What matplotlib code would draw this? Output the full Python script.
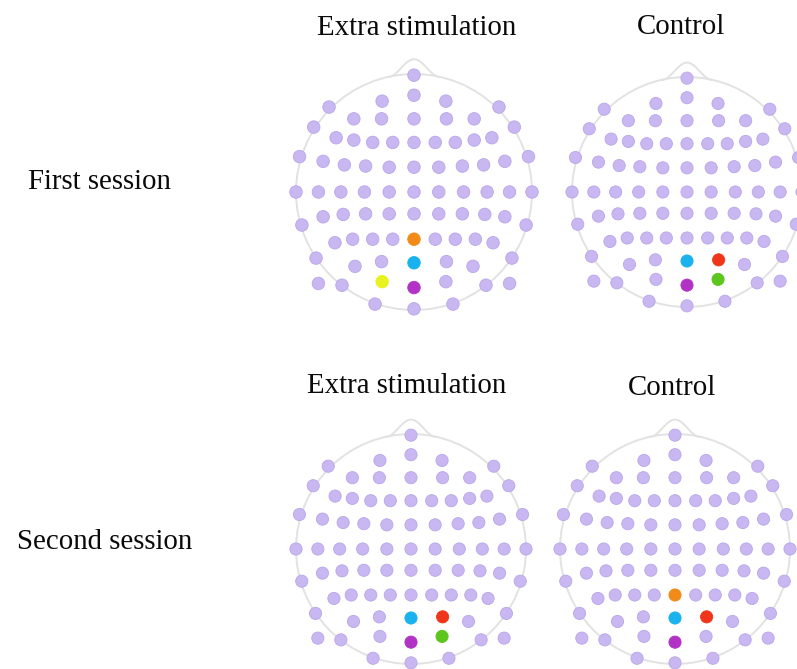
import matplotlib
matplotlib.use('Agg')
import matplotlib.pyplot as plt
from matplotlib.patches import Circle
import numpy as np

W, H = 797, 669

# electrode positions on a unit-radius head (nose up); midline + left side,
# the right side is the mirror image
PZ = (0.0, -0.40)
POZ = (0.0, -0.60)
OZ = (0.0, -0.81)
O1 = (-0.27, -0.76)
PO4 = (0.275, -0.59)
O2 = (0.27, -0.76)

left_and_mid = [
    (0.0, 0.99),
    (0.0, 0.82), (-0.27, 0.77),
    (-0.72, 0.72),
    (-0.51, 0.62), (-0.275, 0.62), (0.0, 0.62), (-0.85, 0.55),
    (-0.66, 0.46), (-0.51, 0.44), (-0.35, 0.42), (-0.18, 0.42), (0.0, 0.42),
    (-0.97, 0.30), (-0.77, 0.26), (-0.59, 0.23), (-0.41, 0.22), (-0.21, 0.21), (0.0, 0.21),
    (-1.0, 0.0), (-0.81, 0.0), (-0.62, 0.0), (-0.42, 0.0), (-0.21, 0.0), (0.0, 0.0),
    (-0.77, -0.21), (-0.60, -0.19), (-0.41, -0.185), (-0.21, -0.185), (0.0, -0.185), (-0.95, -0.28),
    (-0.67, -0.43), (-0.52, -0.40), (-0.35, -0.40), (-0.18, -0.40), PZ,
    (-0.83, -0.56), (-0.50, -0.63), (-0.275, -0.59), POZ,
    (-0.81, -0.775), (-0.61, -0.79), O1, OZ,
    (-0.33, -0.95), (0.0, -0.99),
]
electrodes = left_and_mid + [(-x, y) for x, y in left_and_mid if x < 0]

ORANGE = '#F28A1A'
BLUE = '#1AB2EE'
PURPLE = '#B232C6'
YELLOW = '#E8F21E'
RED = '#F0361A'
GREEN = '#5CC61E'
BASE = '#C9B7F1'
BASE_EDGE = '#B9A6EA'
OUTLINE = '#E2E2E2'

# significant electrodes per condition
hl_first_extra = {PZ: ORANGE, POZ: BLUE, OZ: PURPLE, O1: YELLOW}
hl_first_control = {POZ: BLUE, PO4: RED, OZ: PURPLE, O2: GREEN}
hl_second_extra = {POZ: BLUE, PO4: RED, OZ: PURPLE, O2: GREEN}
hl_second_control = {PZ: ORANGE, POZ: BLUE, PO4: RED, OZ: PURPLE}

# head centre (px), radius (px), highlight map
panels = [
    (414, 192, 118, hl_first_extra),
    (687, 192, 115, hl_first_control),
    (411, 549, 115, hl_second_extra),
    (675, 549, 115, hl_second_control),
]

fig = plt.figure(figsize=(W / 100, H / 100), dpi=100)
fig.patch.set_facecolor('white')

S = 1.2
for cx, cy, R, hl in panels:
    ax = fig.add_axes([(cx - S * R) / W, 1 - (cy + S * R) / H, 2 * S * R / W, 2 * S * R / H])
    ax.set_xlim(-S, S)
    ax.set_ylim(-S, S)
    ax.set_aspect('equal')
    ax.axis('off')

    # head outline and nose
    ax.add_patch(Circle((0, 0), 1.0, fill=False, ec=OUTLINE, lw=1.4, zorder=1))
    nx = np.linspace(-0.22, 0.22, 60)
    ny = 0.975 + 0.15 * np.cos(np.pi * nx / 0.44) ** 2
    ax.plot(nx, ny, color=OUTLINE, lw=1.4, zorder=1)

    for pos in electrodes:
        c = hl.get(pos, BASE)
        ec = BASE_EDGE if c == BASE else c
        ax.add_patch(Circle(pos, 0.053, fc=c, ec=ec, lw=0.6, zorder=3, clip_on=False))

font = dict(family=['Liberation Serif', 'DejaVu Serif'], fontsize=20.8, color='#0A0A0A')


def label(x, y, s):
    fig.text(x / W, 1 - y / H, s, ha='center', va='baseline', **font)


label(417, 35, 'Extra stimulation')
label(681, 34, 'Control')
label(99, 189, 'First session')
label(407, 393, 'Extra stimulation')
label(672, 395, 'Control')
label(105, 549, 'Second session')

fig.savefig('out.png', dpi=100)
